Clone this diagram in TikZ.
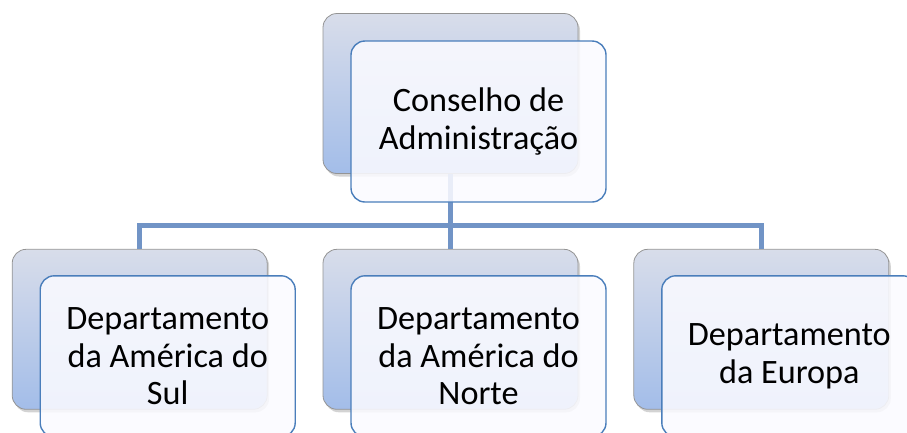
\documentclass[tikz,border=0pt]{standalone}
\usepackage{fontspec}
\setmainfont{Carlito}
\usetikzlibrary{positioning,shadows}

\definecolor{linkblue}{HTML}{7194C6}
\definecolor{edgeblue}{HTML}{4A7EBB}
\definecolor{backtop}{HTML}{D8DDEA}
\definecolor{backbot}{HTML}{A3BDE9}

\tikzset{
	back/.style={draw=black!42, line width=0.8pt, rounded corners=14pt,
		top color=backtop, bottom color=backbot,
		minimum width=255pt, minimum height=160pt,
		drop shadow={shadow xshift=2pt, shadow yshift=-3pt, opacity=0.35}},
	front/.style={draw=edgeblue, line width=1.4pt, rounded corners=14pt,
		fill=blue!2!white, fill opacity=0.88, text opacity=1,
		minimum width=255pt, minimum height=161pt,
		text width=240pt, align=flush center,
		font=\fontsize{34.2}{37.5}\selectfont},
	link/.style={draw=linkblue, line width=5pt},
}

\begin{document}
\begin{tikzpicture}[x=1pt, y=-1pt]
	\useasboundingbox (0,0) rectangle (907,432);
	\clip (0,0) rectangle (907,432);

	%% back boxes
	\node[back](ceo_back) at (450.5,93.5){};
	\node[back, below=75pt of ceo_back](norte_back){};
	\node[back, left=55pt of norte_back](sul_back){};
	\node[back, right=55pt of norte_back](europa_back){};

	%% connectors
	\coordinate (bus) at (ceo_back.south |- 0,225);
	\draw[link] (ceo_back.south) -- (bus);
	\draw[link] (sul_back.north) |- (bus) -| (europa_back.north);
	\draw[link] (bus) -- (norte_back.north);

	%% front boxes
	\node[front, xshift=28pt, yshift=-28pt](ceo) at (ceo_back){Conselho de\\Administração};
	\node[front, xshift=28pt, yshift=-27pt](sul) at (sul_back){Departamento\\da América do\\Sul};
	\node[front, xshift=28pt, yshift=-27pt](norte) at (norte_back){Departamento\\da América do\\Norte};
	\node[front, xshift=28pt, yshift=-27pt](europa) at (europa_back){Departamento\\da Europa};

\end{tikzpicture}
\end{document}
